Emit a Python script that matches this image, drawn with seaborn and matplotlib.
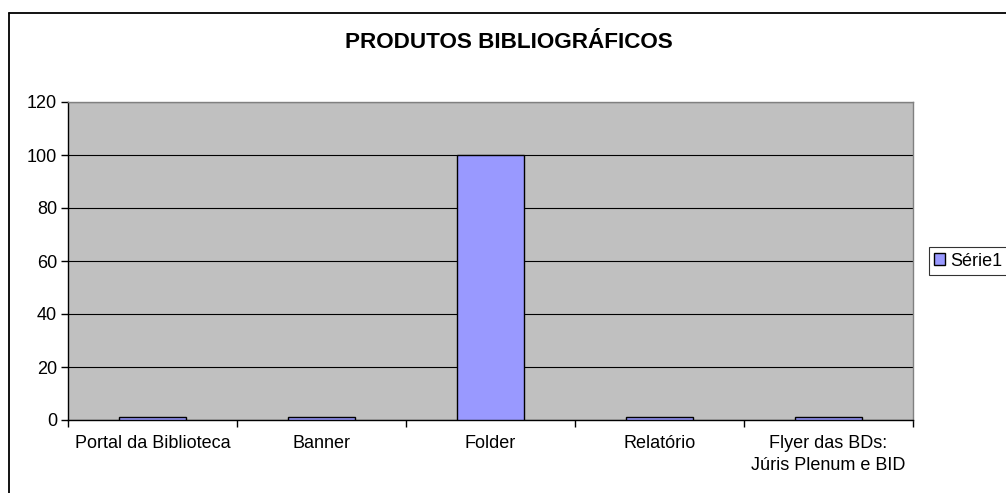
import matplotlib
matplotlib.use("Agg")
import matplotlib.pyplot as plt
from matplotlib.lines import Line2D
import seaborn as sns
import pandas as pd

categories = ["Portal da Biblioteca", "Banner", "Folder", "Relatório",
              "Flyer das BDs:\nJúris Plenum e BID"]
values = [1, 1, 100, 1, 1]
series_name = "Série1"
y_ticks = [0, 20, 40, 60, 80, 100, 120]
title = "PRODUTOS BIBLIOGRÁFICOS"

sns.set_style("white")
plt.rcParams["font.family"] = ["Liberation Sans", "DejaVu Sans"]
plt.rcParams["text.color"] = "black"
plt.rcParams["xtick.color"] = "black"
plt.rcParams["ytick.color"] = "black"

df = pd.DataFrame({"produto": categories, "valor": values, "serie": series_name})

W, H = 1006, 493
fig = plt.figure(figsize=(W / 100, H / 100), dpi=100)
fig.patch.set_facecolor("white")

# chart area frame (top and left edges fall inside the image)
frame_x, frame_y = 8.5 / W, 1 - 12.5 / H
fig.add_artist(Line2D([frame_x, 1.0], [frame_y, frame_y], transform=fig.transFigure,
                      color="black", linewidth=1.3))
fig.add_artist(Line2D([frame_x, frame_x], [0.0, frame_y], transform=fig.transFigure,
                      color="black", linewidth=1.3))

ax = fig.add_axes([68 / W, 1 - 420 / H, (913 - 68) / W, (420 - 102) / H])
ax.set_facecolor("#C0C0C0")

sns.barplot(data=df, x="produto", y="valor", hue="serie", palette=["#9999FF"],
            saturation=1, edgecolor="black", linewidth=1.0, width=0.4,
            dodge=False, ax=ax, zorder=3)

ax.set_xlim(-0.5, len(categories) - 0.5)
ax.set_ylim(0, 120)
ax.set_yticks(y_ticks)
ax.yaxis.grid(True, color="black", linewidth=0.8, zorder=1)
ax.set_axisbelow(True)
ax.set_xlabel("")
ax.set_ylabel("")

for s in ["left", "bottom"]:
    ax.spines[s].set_color("black")
    ax.spines[s].set_linewidth(1.0)
for s in ["top", "right"]:
    ax.spines[s].set_color("#808080")
    ax.spines[s].set_linewidth(1.0)

ax.tick_params(axis="y", direction="out", length=5, width=1, color="black",
               labelcolor="black", labelsize=13, pad=3, left=True)
ax.set_xticks(range(len(categories)))
ax.set_xticklabels(categories, fontsize=13, linespacing=1.4, color="black")
ax.tick_params(axis="x", which="major", length=0, pad=11)
ax.set_xticks([i - 0.5 for i in range(len(categories) + 1)], minor=True)
ax.tick_params(axis="x", which="minor", direction="out", length=5, width=1,
               color="black", bottom=True)

fig.text(509 / W, 1 - 42 / H, title, ha="center", va="center",
         fontsize=16.2, fontweight="bold", color="black")

handles, labels = ax.get_legend_handles_labels()
leg = ax.legend(handles, labels, loc="center left",
                bbox_to_anchor=(929 / W, 1 - 261 / H),
                bbox_transform=fig.transFigure, frameon=True, fancybox=False,
                edgecolor="black", fontsize=13, handlelength=0.6, handleheight=0.6,
                handletextpad=0.3, borderpad=0.3, borderaxespad=0)
leg.get_frame().set_linewidth(0.8)
for t in leg.get_texts():
    t.set_color("black")

fig.savefig("out.png", dpi=100)
